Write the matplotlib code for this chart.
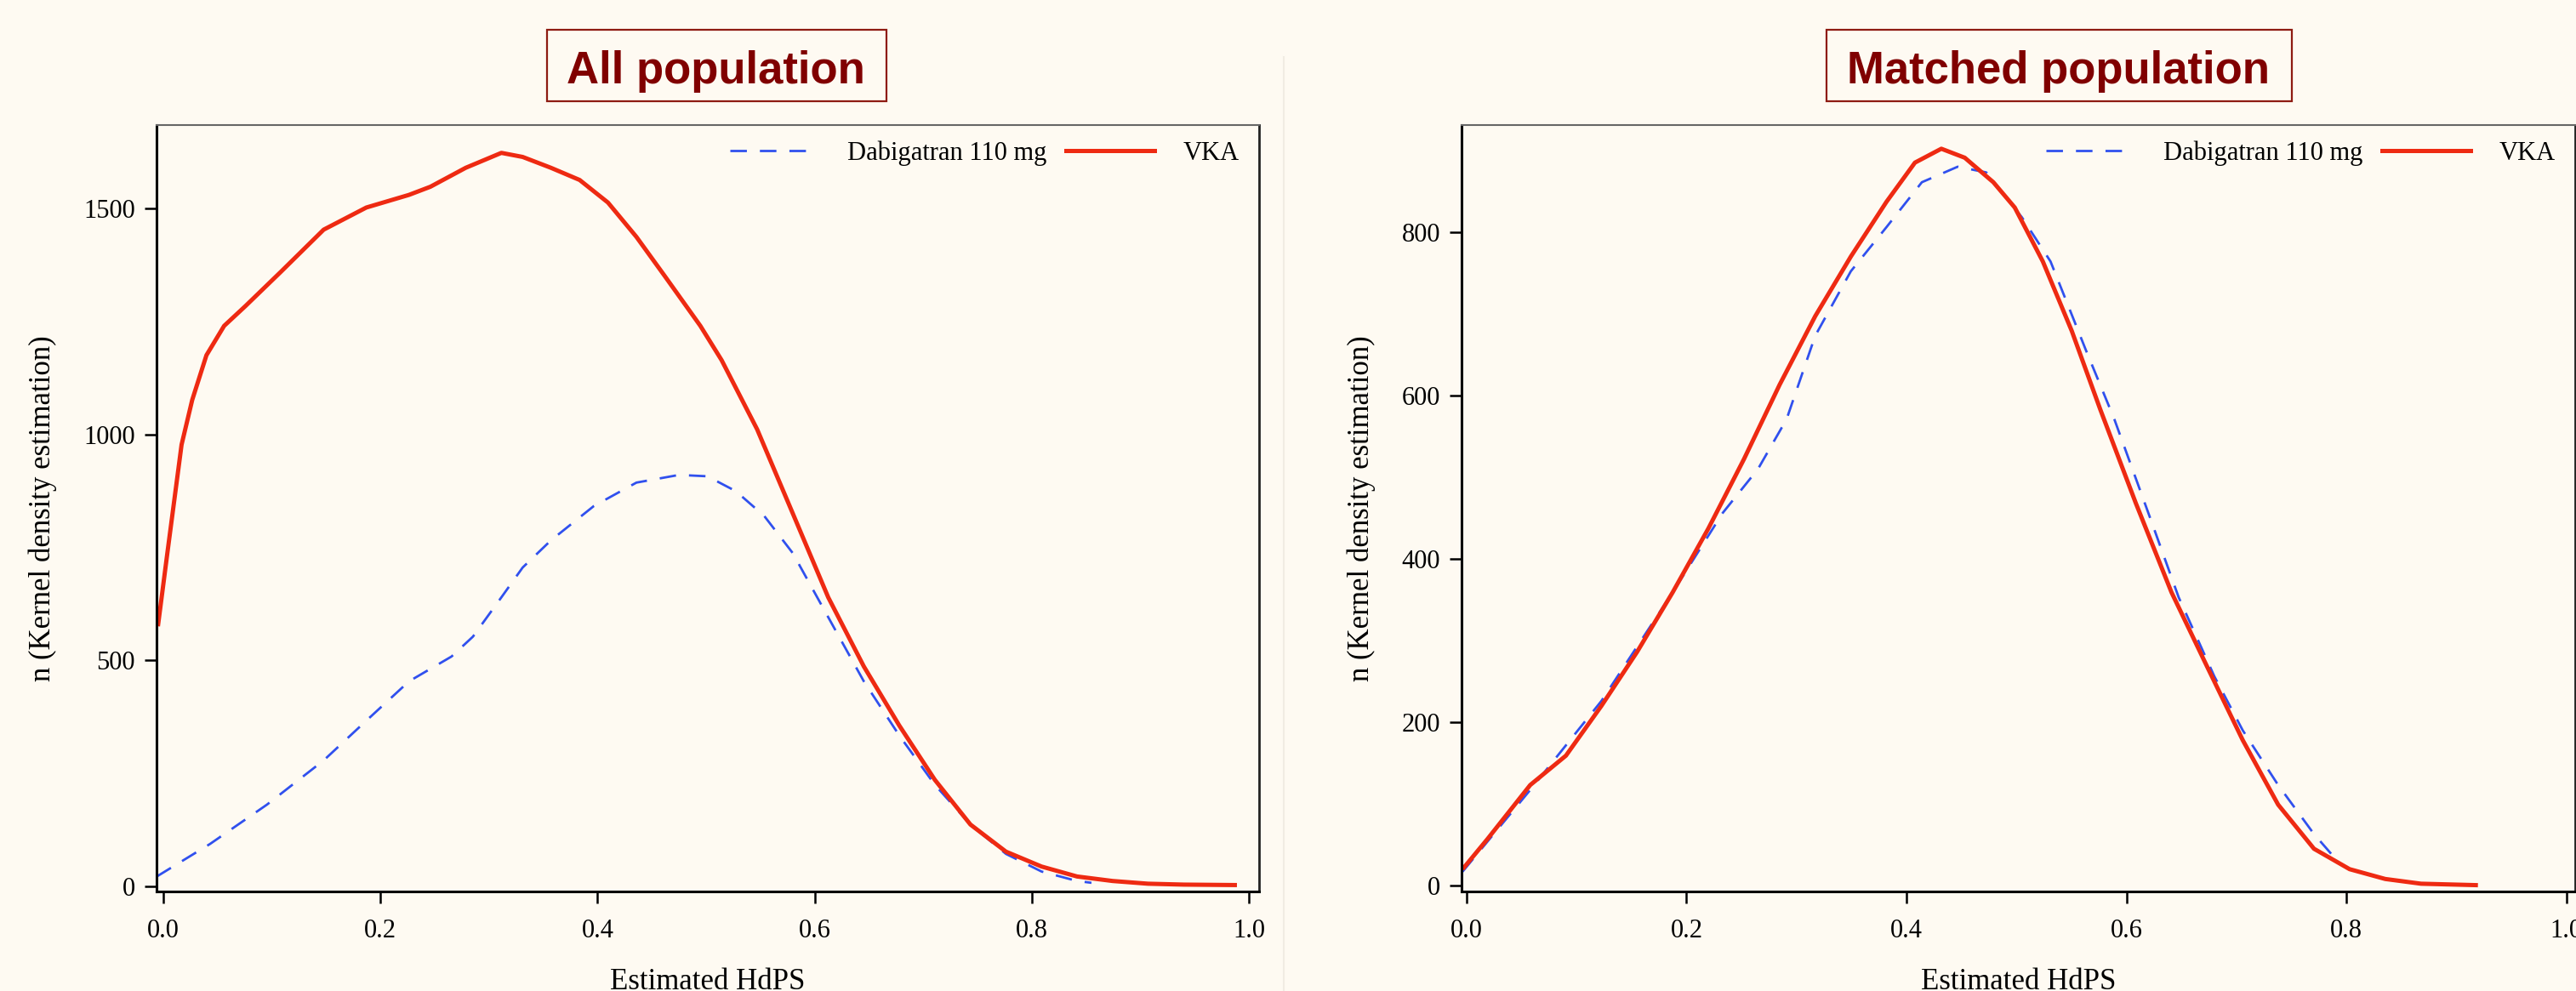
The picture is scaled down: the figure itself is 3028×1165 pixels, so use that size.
import matplotlib
matplotlib.use("Agg")
import matplotlib.pyplot as plt
from matplotlib.patches import Rectangle
from matplotlib.lines import Line2D

# ---------------- data ----------------
# All population
all_vka_x = [-0.005, 0.0037, 0.0168, 0.0266, 0.0397, 0.056, 0.0757, 0.1084, 0.1477, 0.187,
             0.2263, 0.246, 0.2786, 0.3114, 0.331, 0.357, 0.3835, 0.4096, 0.4358, 0.462,
             0.4947, 0.5143, 0.547, 0.5798, 0.6125, 0.6453, 0.678, 0.7107, 0.7435, 0.7762,
             0.809, 0.8417, 0.8745, 0.907, 0.94, 0.989]
all_vka_y = [575, 737, 977, 1076, 1175, 1240, 1284, 1360, 1453, 1502,
             1530, 1548, 1590, 1623, 1614, 1590, 1563, 1513, 1437, 1350,
             1240, 1164, 1011, 825, 639, 486, 355, 235, 136, 76,
             43, 21, 11, 5, 3, 2]
all_dab_x = [-0.006, 0.043, 0.0954, 0.1477, 0.187, 0.2263, 0.2655, 0.2852, 0.3114, 0.331,
             0.357, 0.3965, 0.4358, 0.475, 0.5012, 0.5274, 0.5536, 0.5798, 0.6125, 0.6453,
             0.678, 0.7107, 0.7435, 0.7762, 0.809, 0.8417, 0.855]
all_dab_y = [21, 93, 180, 278, 366, 453, 508, 552, 639, 705,
             765, 841, 893, 910, 907, 874, 819, 737, 595, 453,
             333, 224, 136, 71, 32, 11, 7]

# Matched population
m_vka_x = [-0.0037, 0.019, 0.0578, 0.0903, 0.1226, 0.155, 0.1874, 0.2198, 0.2522, 0.2846,
           0.317, 0.3494, 0.3818, 0.4077, 0.4317, 0.453, 0.479, 0.4985, 0.524, 0.5503,
           0.5762, 0.6086, 0.641, 0.6734, 0.7058, 0.738, 0.7706, 0.803, 0.8354, 0.868, 0.9197]
m_vka_y = [20, 57, 123, 159, 220, 286, 359, 437, 522, 613,
           697, 770, 837, 885, 902, 891, 861, 830, 764, 679,
           583, 468, 359, 268, 178, 99, 45, 20, 8, 2.2, 0.4]
m_dab_x = [-0.0037, 0.0578, 0.1226, 0.1874, 0.2328, 0.265, 0.291, 0.317, 0.3494, 0.3818,
           0.414, 0.4466, 0.4726, 0.505, 0.531, 0.5633, 0.589, 0.6216, 0.6475, 0.68,
           0.7058, 0.738, 0.7706, 0.79]
m_dab_y = [17, 117, 226, 359, 456, 510, 571, 673, 752, 806,
           861, 880, 873, 818, 764, 655, 571, 450, 353, 256,
           190, 123, 63, 33]

x_ticks = [0.0, 0.2, 0.4, 0.6, 0.8, 1.0]
x_tick_labels = ["0.0", "0.2", "0.4", "0.6", "0.8", "1.0"]
all_y_ticks = [0, 500, 1000, 1500]
m_y_ticks = [0, 200, 400, 600, 800]

titles = ["All population", "Matched population"]
series_names = ["Dabigatran 110 mg", "VKA"]
x_label = "Estimated HdPS"
y_label = "n (Kernel density estimation)"

# ---------------- style ----------------
BG = "#FEFAF2"
RED = "#EE2A12"
BLUE = "#3050EE"
TITLE_C = "#800000"
BOX_C = "#8E1B12"
SERIF = ["Liberation Serif", "DejaVu Serif"]
W, H = 3028, 1165

plt.rcParams["font.family"] = SERIF

fig = plt.figure(figsize=(W / 100, H / 100), dpi=100, facecolor=BG)


def fx(px):
    return px / W


def fy(py):
    return 1 - py / H


panels = [
    dict(left=184, right=1480, xlim=(-0.00627, 1.0094), ylim=(-12.2, 1684.6),
         yticks=all_y_ticks, vka=(all_vka_x, all_vka_y), dab=(all_dab_x, all_dab_y),
         ylab_x=50, box=(643, 1042), title=titles[0]),
    dict(left=1718, right=3027, xlim=(-0.00464, 1.00812), ylim=(-7.3, 931),
         yticks=m_y_ticks, vka=(m_vka_x, m_vka_y), dab=(m_dab_x, m_dab_y),
         ylab_x=1600, box=(2147, 2694), title=titles[1]),
]

top_px, bot_px = 147, 1048

for p in panels:
    ax = fig.add_axes([fx(p["left"]), fy(bot_px), fx(p["right"] - p["left"]),
                       (bot_px - top_px) / H])
    ax.set_facecolor(BG)
    ax.plot(p["dab"][0], p["dab"][1], color=BLUE, lw=2.0, dashes=(7, 5.5),
            dash_capstyle="butt", solid_joinstyle="round", label=series_names[0])
    ax.plot(p["vka"][0], p["vka"][1], color=RED, lw=3.6, label=series_names[1],
            solid_joinstyle="round", solid_capstyle="butt")
    ax.set_xlim(*p["xlim"])
    ax.set_ylim(*p["ylim"])
    ax.set_xticks(x_ticks)
    ax.set_xticklabels(x_tick_labels)
    ax.set_yticks(p["yticks"])
    ax.tick_params(axis="both", direction="out", length=10, width=1.8,
                   colors="black", labelsize=22)
    ax.tick_params(axis="x", pad=13)
    ax.tick_params(axis="y", pad=8)
    for s in ("left", "bottom"):
        ax.spines[s].set_linewidth(2.2)
        ax.spines[s].set_color("black")
    ax.spines["right"].set_linewidth(2.0)
    ax.spines["right"].set_color("#222222")
    ax.spines["top"].set_linewidth(1.5)
    ax.spines["top"].set_color("#666666")

    handles = [Line2D([], [], color=BLUE, lw=2.0, dashes=(7, 5.5)),
               Line2D([], [], color=RED, lw=3.6)]
    ax.legend(handles, series_names, loc="center right", bbox_to_anchor=(0.982, 0.963),
              frameon=False, ncol=2, fontsize=22, handlelength=3.4,
              handletextpad=1.1, columnspacing=0.75, borderpad=0, borderaxespad=0)

    cx = (p["left"] + p["right"]) / 2
    fig.text(fx(cx), fy(1163), x_label, ha="center", va="baseline", fontsize=25)
    fig.text(fx(p["ylab_x"]), fy((top_px + bot_px) / 2), y_label, rotation=90,
             ha="center", va="center", fontsize=25)

    b0, b1 = p["box"]
    fig.patches.append(Rectangle((fx(b0), fy(119)), fx(b1 - b0), (119 - 35) / H,
                                 transform=fig.transFigure, fill=False,
                                 edgecolor=BOX_C, lw=1.6))
    fig.text(fx((b0 + b1) / 2 - 1), fy(98), p["title"], ha="center", va="baseline",
             fontsize=38, fontweight="bold", color=TITLE_C,
             family=["Liberation Sans", "DejaVu Sans"])

# faint separator between panels
fig.add_artist(Line2D([fx(1509), fx(1509)], [fy(67), 0], transform=fig.transFigure,
                      color="#F1ECE3", lw=1.5))

fig.savefig("out.png", dpi=100, facecolor=BG)
